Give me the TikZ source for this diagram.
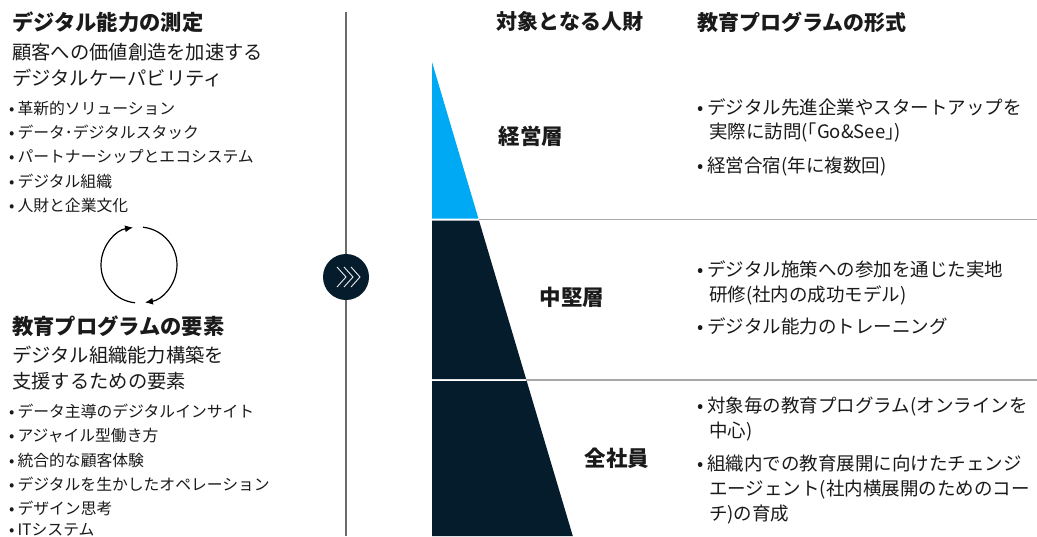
\documentclass[tikz,border=0pt]{standalone}
\usepackage{fontspec}
\setmainfont{Noto Sans CJK JP}
\usetikzlibrary{arrows.meta}
\definecolor{navy}{HTML}{051C2C}
\definecolor{skyb}{HTML}{00A9F4}
\definecolor{txt}{HTML}{1A1A1A}
\definecolor{rule}{HTML}{A8A8A8}
\definecolor{divider}{HTML}{6A6A6A}
\tikzset{
  h1/.style={anchor=west, inner sep=0pt, text=txt, font=\fontsize{21.3}{25}\selectfont\bfseries},
  h2/.style={anchor=west, inner sep=0pt, text=txt, font=\fontsize{19.3}{23}\selectfont},
  lb/.style={anchor=west, inner sep=0pt, text=txt, font=\fontsize{15.8}{18}\selectfont},
  rb/.style={anchor=west, inner sep=0pt, text=txt, font=\fontsize{18.5}{22}\selectfont},
  hd/.style={inner sep=0pt, text=txt, font=\fontsize{21}{25}\selectfont\bfseries},
  lay/.style={inner sep=0pt, text=txt, font=\fontsize{21.5}{25}\selectfont\bfseries},
  cyc/.style={line width=1.2pt, -{Latex[length=8pt,width=7pt]}},
}
\newcommand{\lbul}{•\hspace{3pt}}
\newcommand{\rbul}{•\hspace{4pt}}
\begin{document}
\begin{tikzpicture}[x=1pt,y=-1pt]
\clip (0,0) rectangle (1037,536);
\fill[white] (0,0) rectangle (1037,536);

% ---- left column
\node[h1] (t1) at (12,22) {デジタル能力の測定};
\node[h2] (s1) at (12,52) {顧客への価値創造を加速する};
\node[h2] (s2) at (12,78) {デジタルケーパビリティ};
\node[lb] (b1) at (9,108) {\lbul 革新的ソリューション};
\node[lb] (b2) at (9,132) {\lbul データ･デジタルスタック};
\node[lb] (b3) at (9,157) {\lbul パートナーシップとエコシステム};
\node[lb] (b4) at (9,181) {\lbul デジタル組織};
\node[lb] (b5) at (9,205) {\lbul 人財と企業文化};

% cycle
\coordinate (cc) at (139,265);
\draw[cyc] (cc) ++(-264:38) arc[start angle=-264, end angle=-99, radius=38];
\draw[cyc] (cc) ++(-84:38) arc[start angle=-84, end angle=81, radius=38];

\node[h1] (t2) at (12,326) {教育プログラムの要素};
\node[h2] (s3) at (12,355) {デジタル組織能力構築を};
\node[h2] (s4) at (12,381) {支援するための要素};
\node[lb] (c1) at (9,411) {\lbul データ主導のデジタルインサイト};
\node[lb] (c2) at (9,436) {\lbul アジャイル型働き方};
\node[lb] (c3) at (9,460) {\lbul 統合的な顧客体験};
\node[lb] (c4) at (9,484) {\lbul デジタルを生かしたオペレーション};
\node[lb] (c5) at (9,508) {\lbul デザイン思考};
\node[lb] (c6) at (9,530) {\lbul ITシステム};

% ---- divider with chevron circle
\node[circle, fill=navy, minimum size=46pt, inner sep=0pt] (go) at (346,277) {};
\coordinate (dtop) at (346,12);
\coordinate (dbot) at (346,536);
\draw[divider, line width=1.3pt] (dtop) -- (go.north);
\draw[divider, line width=1.3pt] (go.south) -- (dbot);
\foreach \dx in {-9,-2,5}{
  \draw[white!85!gray, line width=0.9pt] ([shift={(\dx,-10)}]go.center) -- ([shift={(\dx+9,0)}]go.center) -- ([shift={(\dx,10)}]go.center);
}

% ---- pyramid
\fill[skyb] (432,62) -- (478.4,218.5) -- (432,218.5) -- cycle;
\fill[navy] (432,220.5) -- (479.0,220.5) -- (526.1,379) -- (432,379) -- cycle;
\fill[navy] (432,381) -- (526.7,381) -- (572.8,536) -- (432,536) -- cycle;
\coordinate (r1a) at (478.7,219.5);
\coordinate (r1b) at (1037,219.5);
\coordinate (r2a) at (526.4,380);
\coordinate (r2b) at (1037,380);
\draw[rule, line width=1.4pt] (r1a) -- (r1b);
\draw[rule, line width=1.4pt] (r2a) -- (r2b);

% headers
\node[hd] (hA) at (570,22) {対象となる人財};
\node[hd, anchor=west] (hB) at (697,22) {教育プログラムの形式};

% layer labels
\node[lay] (L1) at (531,136) {経営層};
\node[lay] (L2) at (572,297) {中堅層};
\node[lay] (L3) at (617,458) {全社員};

% right text
\node[rb] (p1) at (697,107) {\rbul デジタル先進企業やスタートアップを};
\node[rb] (p2) at (709,132) {実際に訪問(｢Go\&See｣)};
\node[rb] (p3) at (697,167) {\rbul 経営合宿(年に複数回)};
\node[rb] (q1) at (697,269) {\rbul デジタル施策への参加を通じた実地};
\node[rb] (q2) at (709,295) {研修(社内の成功モデル)};
\node[rb] (q3) at (697,326) {\rbul デジタル能力のトレーニング};
\node[rb] (r1) at (697,407) {\rbul 対象毎の教育プログラム(オンラインを};
\node[rb] (r2) at (709,432) {中心)};
\node[rb] (r3) at (697,464) {\rbul 組織内での教育展開に向けたチェンジ};
\node[rb] (r4) at (709,490) {エージェント(社内横展開のためのコー};
\node[rb] (r5) at (709,515) {チ)の育成};
\end{tikzpicture}
\end{document}
